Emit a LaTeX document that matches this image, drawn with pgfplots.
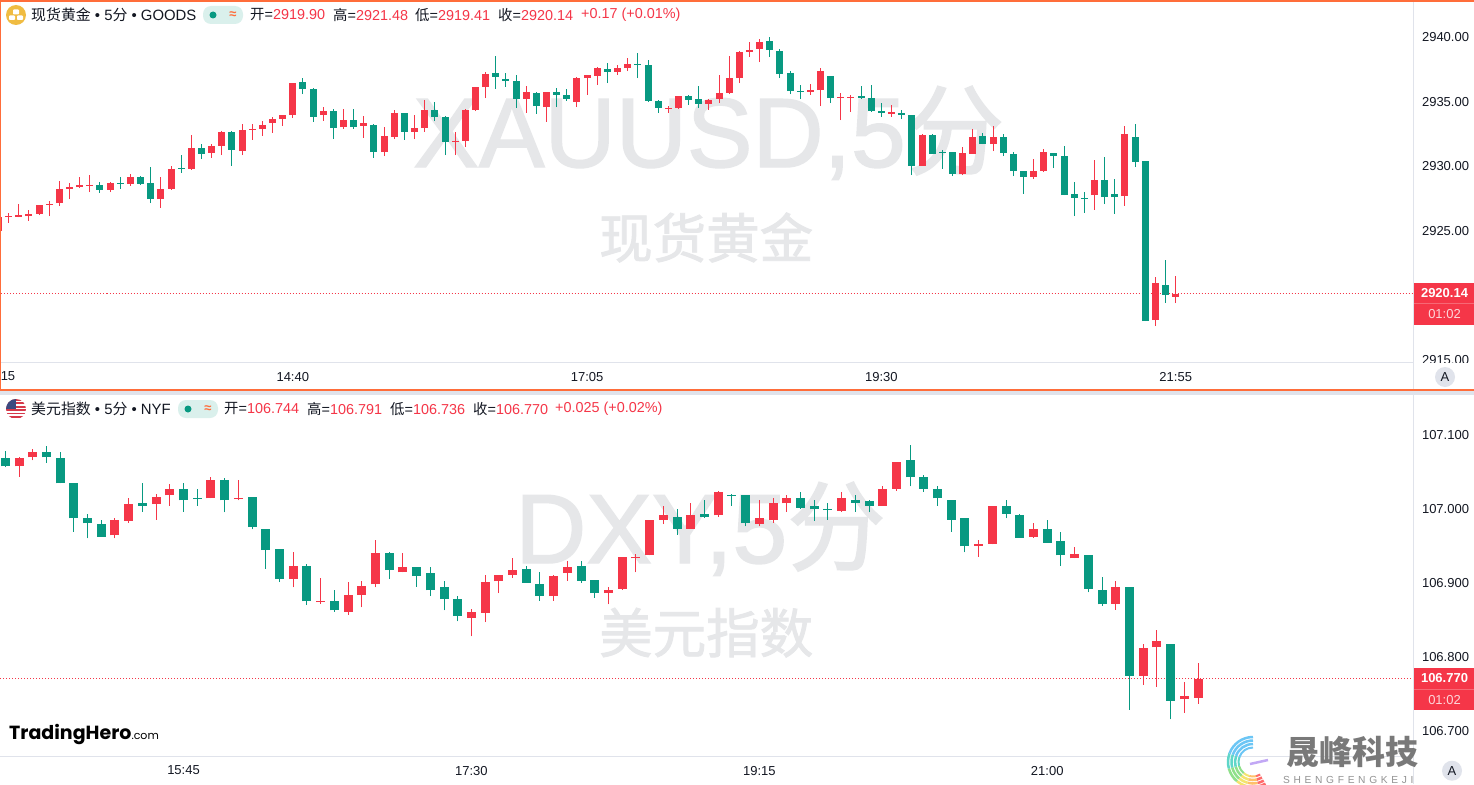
\documentclass[border=0pt]{standalone}
\usepackage{pgfplots}
\usepackage{pgfplotstable}
\usepackage{fontspec}
\pgfplotsset{compat=1.18}
\setmainfont{Liberation Sans}
\newfontfamily\cjk{Noto Sans CJK SC}
\newfontfamily\wmf{Liberation Sans}[FakeBold=1.5]
\newfontfamily\wmc{Noto Sans CJK SC}[FakeBold=1.5]
\newfontfamily\logof{Poppins}
\newfontfamily\spaced{Liberation Sans}[LetterSpace=36]
\newcommand{\fs}[1]{\fontsize{#1}{#1}\selectfont}
\definecolor{cup}{HTML}{F53648}
\definecolor{cdn}{HTML}{089981}
\definecolor{ln}{HTML}{E0E3EB}
\definecolor{org}{HTML}{FF6D3A}
\definecolor{wm}{HTML}{E6E7E9}
\definecolor{ink}{HTML}{131722}
\definecolor{goldc}{HTML}{F0BC42}
\definecolor{pill}{HTML}{DAF0EC}
\definecolor{flagr}{HTML}{D6384A}
\definecolor{flagb}{HTML}{3C4A80}
\definecolor{s1}{HTML}{FF6B6B}
\definecolor{s2}{HTML}{FFC06A}
\definecolor{s3}{HTML}{F4E46E}
\definecolor{s4}{HTML}{8FE08A}
\definecolor{s5}{HTML}{5FD6C8}
\definecolor{s6}{HTML}{6CC6F5}
\definecolor{s7}{HTML}{C2A8F5}

% x o h l c
\pgfplotstableread{
x o h l c
0 2925.03 2926.11 2925.03 2926.11
1 2926.08 2926.37 2925.65 2926.16
2 2926.11 2927.09 2926.06 2926.24
3 2926.16 2926.63 2925.80 2926.32
4 2926.32 2927.01 2926.24 2927.01
5 2927.04 2927.33 2926.16 2927.12
6 2927.17 2928.88 2926.97 2928.26
7 2928.26 2928.72 2927.48 2928.41
8 2928.41 2929.19 2928.33 2928.57
9 2928.49 2929.34 2928.02 2928.57
11 2928.18 2928.80 2928.02 2928.72
13 2928.65 2929.42 2928.49 2929.19
16 2927.48 2929.19 2926.79 2928.26
17 2928.26 2930.04 2928.18 2929.81
19 2929.81 2932.44 2929.73 2931.44
21 2931.05 2931.75 2930.66 2931.59
22 2931.59 2932.75 2930.89 2932.68
24 2931.20 2933.30 2930.89 2932.83
25 2932.83 2933.30 2932.06 2932.91
26 2932.91 2933.53 2932.37 2933.22
27 2933.38 2933.84 2932.60 2933.69
28 2933.69 2934.00 2933.14 2934.00
29 2934.00 2936.47 2933.76 2936.47
32 2934.00 2934.61 2933.53 2934.30
34 2933.06 2934.46 2932.91 2933.61
36 2933.14 2933.92 2932.21 2933.38
38 2931.12 2933.06 2930.81 2932.37
39 2932.29 2934.38 2932.13 2934.15
41 2932.68 2934.00 2932.13 2932.98
42 2932.98 2935.16 2932.68 2934.38
45 2931.90 2932.68 2930.89 2931.98
46 2931.98 2934.46 2931.51 2934.38
47 2934.38 2936.16 2934.30 2936.16
48 2936.16 2937.33 2935.31 2937.17
52 2935.24 2936.24 2934.15 2935.78
54 2934.61 2935.78 2933.45 2935.78
57 2935.00 2936.94 2934.61 2936.86
58 2936.86 2937.10 2935.55 2937.10
59 2937.02 2937.72 2936.32 2937.64
61 2937.33 2937.87 2937.10 2937.64
62 2937.64 2938.41 2937.40 2937.95
66 2934.46 2934.69 2934.15 2934.54
67 2934.54 2935.47 2934.46 2935.47
70 2934.85 2935.24 2934.38 2935.16
71 2935.24 2937.10 2934.92 2935.70
72 2935.70 2938.57 2935.62 2936.86
73 2936.86 2938.95 2936.47 2938.88
74 2938.88 2939.65 2938.49 2939.03
75 2939.11 2939.88 2938.10 2939.65
80 2935.78 2936.40 2935.55 2935.93
81 2935.93 2937.64 2934.69 2937.40
83 2935.31 2935.70 2933.60 2935.39
84 2935.34 2935.55 2934.23 2935.41
88 2934.07 2934.77 2933.84 2934.23
91 2930.04 2932.52 2930.04 2932.44
95 2929.42 2931.51 2929.34 2931.05
96 2930.97 2932.91 2930.97 2932.29
98 2931.74 2933.14 2931.20 2932.29
102 2929.19 2930.58 2929.03 2929.65
103 2929.65 2931.36 2929.57 2931.12
108 2927.79 2930.50 2926.63 2928.95
111 2927.71 2933.14 2926.94 2932.52
114 2918.10 2921.43 2917.63 2920.97
116 2919.90 2921.48 2919.41 2920.14
}\goldup
\pgfplotstableread{
x o h l c
10 2928.57 2928.80 2927.95 2928.18
12 2928.72 2929.19 2928.26 2928.65
14 2929.19 2929.27 2928.57 2928.65
15 2928.72 2929.96 2927.17 2927.48
18 2929.89 2930.89 2929.50 2929.81
20 2931.44 2931.75 2930.58 2930.97
23 2932.68 2932.75 2930.04 2931.28
30 2936.55 2936.86 2935.62 2936.01
31 2936.01 2936.09 2933.45 2933.84
33 2934.30 2934.46 2932.13 2932.98
35 2933.61 2934.46 2932.91 2933.06
37 2933.22 2933.30 2930.66 2931.12
40 2934.15 2934.15 2932.06 2932.68
43 2934.38 2935.00 2933.53 2933.84
44 2933.84 2933.92 2930.89 2931.90
49 2937.25 2938.57 2936.01 2936.94
50 2936.79 2937.25 2936.17 2936.63
51 2936.63 2937.10 2934.54 2935.24
53 2935.70 2935.78 2934.07 2934.69
55 2935.78 2936.09 2934.61 2935.55
56 2935.55 2936.01 2935.08 2935.24
60 2937.56 2938.02 2936.47 2937.33
63 2937.95 2938.80 2936.86 2937.89
64 2937.87 2938.26 2935.00 2935.08
65 2935.08 2935.16 2934.15 2934.54
68 2935.47 2935.55 2934.77 2935.16
69 2935.24 2936.24 2934.54 2934.85
76 2939.73 2940.04 2938.49 2939.03
77 2938.95 2939.11 2936.86 2937.17
78 2937.25 2937.40 2935.62 2935.85
79 2935.85 2936.32 2935.24 2935.78
82 2937.02 2937.02 2934.92 2935.31
85 2935.47 2936.24 2935.24 2935.31
86 2935.31 2936.32 2934.23 2934.30
87 2934.30 2934.92 2933.84 2934.15
89 2934.15 2934.38 2933.68 2934.00
90 2933.99 2933.99 2929.34 2930.04
92 2932.44 2932.52 2930.97 2930.97
93 2931.15 2931.28 2929.81 2931.07
94 2931.12 2931.12 2929.26 2929.42
97 2932.37 2932.60 2931.74 2931.74
99 2932.29 2932.52 2930.81 2931.05
100 2930.97 2931.12 2929.26 2929.65
101 2929.65 2929.65 2927.87 2929.19
104 2931.05 2931.05 2929.88 2930.81
105 2930.81 2931.59 2927.79 2927.79
106 2927.87 2928.80 2926.16 2927.56
107 2927.56 2928.02 2926.40 2927.48
109 2928.95 2930.74 2927.09 2927.63
110 2927.87 2929.03 2926.32 2927.63
112 2932.29 2933.30 2929.96 2930.35
113 2930.43 2930.43 2918.02 2918.02
115 2920.81 2922.75 2919.42 2920.03
}\golddn
\pgfplotstableread{
x o h l c
1 107.056 107.068 107.042 107.067
2 107.068 107.079 107.064 107.075
8 106.963 106.987 106.959 106.984
9 106.983 107.014 106.980 107.005
11 107.005 107.019 106.984 107.015
12 107.017 107.032 107.003 107.026
15 107.013 107.042 107.013 107.037
17 107.012 107.038 107.010 107.014
21 106.904 106.940 106.893 106.922
23 106.873 106.905 106.871 106.875
25 106.860 106.900 106.856 106.882
26 106.883 106.901 106.866 106.895
27 106.897 106.957 106.893 106.939
29 106.913 106.939 106.913 106.920
34 106.852 106.864 106.827 106.860
35 106.859 106.910 106.846 106.900
36 106.901 106.909 106.885 106.909
37 106.910 106.932 106.906 106.917
40 106.881 106.909 106.875 106.908
41 106.912 106.928 106.902 106.921
44 106.885 106.894 106.870 106.890
45 106.891 106.934 106.890 106.934
46 106.932 106.938 106.913 106.934
47 106.936 106.984 106.936 106.984
48 106.984 107.003 106.978 106.990
50 106.972 107.007 106.972 106.991
52 106.990 107.023 106.988 107.021
55 106.978 107.011 106.975 106.986
56 106.984 107.014 106.980 107.007
57 107.006 107.017 106.995 107.013
61 106.996 107.022 106.995 107.013
64 107.003 107.030 107.003 107.025
65 107.026 107.062 107.023 107.062
71 106.949 106.957 106.934 106.951
72 106.952 107.003 106.951 107.003
75 106.961 106.980 106.960 106.972
78 106.932 106.948 106.932 106.938
81 106.871 106.901 106.863 106.893
83 106.774 106.816 106.762 106.811
84 106.812 106.835 106.759 106.820
86 106.742 106.766 106.724 106.746
87 106.744 106.791 106.736 106.770
}\dxyup
\pgfplotstableread{
x o h l c
0 107.067 107.077 107.055 107.056
3 107.076 107.083 107.061 107.068
4 107.067 107.075 107.033 107.033
5 107.033 107.033 106.968 106.986
6 106.987 106.992 106.959 106.979
7 106.978 106.984 106.961 106.961
10 107.006 107.033 106.995 107.003
13 107.025 107.034 106.995 107.010
14 107.014 107.025 107.003 107.012
16 107.037 107.040 106.994 107.010
18 107.015 107.015 106.971 106.974
19 106.972 106.972 106.918 106.943
20 106.944 106.945 106.900 106.904
22 106.922 106.924 106.869 106.874
24 106.874 106.889 106.860 106.862
28 106.939 106.940 106.904 106.916
30 106.920 106.921 106.894 106.908
31 106.912 106.920 106.881 106.889
32 106.893 106.901 106.862 106.877
33 106.877 106.881 106.847 106.854
38 106.918 106.922 106.899 106.899
39 106.898 106.914 106.875 106.881
42 106.922 106.928 106.899 106.902
43 106.903 106.903 106.879 106.885
49 106.988 106.998 106.964 106.972
51 106.992 107.010 106.987 106.988
53 107.018 107.019 107.003 107.016
54 107.018 107.018 106.975 106.979
58 107.014 107.022 106.999 107.000
59 107.002 107.010 106.983 106.998
60 106.999 107.007 106.984 106.997
62 107.011 107.018 106.995 107.007
63 107.009 107.011 106.994 107.003
66 107.064 107.085 107.029 107.041
67 107.042 107.045 107.022 107.026
68 107.026 107.030 107.003 107.013
69 107.011 107.011 106.968 106.984
70 106.986 106.986 106.940 106.948
73 107.002 107.011 106.986 106.992
74 106.991 106.992 106.960 106.960
76 106.972 106.984 106.953 106.953
77 106.955 106.967 106.922 106.936
79 106.937 106.937 106.886 106.891
80 106.889 106.907 106.868 106.870
82 106.893 106.894 106.728 106.774
85 106.817 106.817 106.715 106.740
}\dxydn

\newcommand{\candles}[3]{%
  \addplot[draw=none,mark=none,forget plot,
    error bars/.cd,y dir=plus,y explicit,error mark=none,
    error bar style={draw=#2,line width=1pt,solid}]
    table[x=x,y=l,y error plus expr=\thisrow{h}-\thisrow{l}]{#1};
}
\newcommand{\bodiesup}[3]{%
  \addplot[draw=none,mark=none,forget plot,
    error bars/.cd,y dir=plus,y explicit,error mark=none,
    error bar style={draw=#2,line width=#3,solid}]
    table[x=x,y=o,y error plus expr=\thisrow{c}-\thisrow{o}]{#1};
}
\newcommand{\bodiesdn}[3]{%
  \addplot[draw=none,mark=none,forget plot,
    error bars/.cd,y dir=plus,y explicit,error mark=none,
    error bar style={draw=#2,line width=#3,solid}]
    table[x=x,y=c,y error plus expr=\thisrow{o}-\thisrow{c}]{#1};
}

\pgfplotsset{pane/.style={
  scale only axis,anchor=south west,
  axis x line=bottom,axis y line=right,
  axis line style={draw=ln,-,line width=1pt},
  major tick length=0pt,minor tick length=0pt,
  tick style={draw=none},
  xticklabel style={font=\fs{13},text=ink,yshift=-6.5pt},
  yticklabel style={font=\fs{13},text=ink,anchor=west,xshift=5.5pt},
}}

\begin{document}
\begin{tikzpicture}
\begin{scope}[x=1pt,y=-1pt]
  \fill[white] (0,0) rectangle (1474,784);
  \node[anchor=base west,inner sep=0pt,text=wm] at (413,167) {\fs{98.5}\wmf XAUUSD,5{\wmc 分}};
  \node[anchor=base west,inner sep=0pt,text=wm] at (599,258) {\fs{53.5}\wmc 现货黄金};
  \node[anchor=base west,inner sep=0pt,text=wm] at (515,563) {\fs{98.5}\wmf DXY,5{\wmc 分}};
  \node[anchor=base west,inner sep=0pt,text=wm] at (599,653) {\fs{53.5}\wmc 美元指数};
\end{scope}

\begin{axis}[pane,at={(0pt,-362pt)},width=1413pt,height=360pt,
  xmin=0.148,xmax=139.38,ymin=2914.845,ymax=2942.752,
  xtick={29,58,87,116},xticklabels={14:40,17:05,19:30,21:55},
  ytick={2915,2920,2925,2930,2935,2940},
  yticklabels={2915.00,2920.00,2925.00,2930.00,2935.00,2940.00}]
  \addplot[cup,line width=1pt,dash pattern=on 1pt off 2pt,forget plot] coordinates {(0,2920.14)(139.38,2920.14)};
  \candles{\goldup}{cup}{}
  \candles{\golddn}{cdn}{}
  \bodiesup{\goldup}{cup}{7pt}
  \bodiesdn{\golddn}{cdn}{7pt}
\end{axis}

\begin{axis}[pane,at={(0pt,-756pt)},width=1413pt,height=361pt,
  xmin=-0.387,xmax=102.68,ymin=106.66563,ymax=107.15216,
  xtick={13,34,55,76},xticklabels={15:45,17:30,19:15,21:00},
  ytick={106.7,106.8,106.9,107,107.1},
  yticklabels={106.700,106.800,106.900,107.000,107.100},
  yticklabel style={yshift=-1pt}]
  \addplot[cup,line width=1pt,dash pattern=on 1pt off 2pt,forget plot] coordinates {(-0.387,106.770)(102.68,106.770)};
  \candles{\dxyup}{cup}{}
  \candles{\dxydn}{cdn}{}
  \bodiesup{\dxyup}{cup}{9pt}
  \bodiesdn{\dxydn}{cdn}{9pt}
\end{axis}

\begin{scope}[x=1pt,y=-1pt]
  \fill[white] (1413.6,362.6) rectangle (1474,389.5);
  \draw[ln,line width=1pt] (1413,362) -- (1413,395);
  \draw[ln,line width=1pt] (1413,756) -- (1413,784);
  \fill[ln] (0,391) rectangle (1474,394.5);
  \fill[org] (0,0) rectangle (1474,2);
  \fill[org] (0,389) rectangle (1474,391);
  \fill[org] (0,0) rectangle (1.2,391);
  \node[anchor=center,inner sep=0pt,text=ink] at (8,376.5) {\fs{13}15};
  \fill[ln] (1445,377) circle (10);
  \node[inner sep=0pt,text=ink] at (1445,377) {\fs{13}A};
  \fill[ln] (1452,770.7) circle (10);
  \node[inner sep=0pt,text=ink] at (1452,770.7) {\fs{13}A};
  \fill[cup] (1414,282.5) rectangle (1474,324.5);
  \draw[white,opacity=.25,line width=.8pt] (1414,303.5) -- (1474,303.5);
  \node[inner sep=0pt,text=white] at (1444.5,293.5) {\fs{13}\bfseries 2920.14};
  \node[inner sep=0pt,text=white,opacity=.8] at (1444.5,314.5) {\fs{13}01:02};
  \fill[cup] (1414,668) rectangle (1474,710);
  \draw[white,opacity=.25,line width=.8pt] (1414,689.5) -- (1474,689.5);
  \node[inner sep=0pt,text=white] at (1444.5,678.5) {\fs{13}\bfseries 106.770};
  \node[inner sep=0pt,text=white,opacity=.8] at (1444.5,700) {\fs{13}01:02};
  \fill[goldc] (16,15) circle (10);
  \node[anchor=west,inner sep=0pt,text=ink] at (31,15) {\fs{14.9}{\cjk 现货黄金} • 5{\cjk 分} • GOODS};
  \fill[pill,rounded corners=8pt] (203,6) rectangle (243,24);
  \fill[cdn] (213,15) circle (3.5);
  \node[inner sep=0pt,text=org] at (233,15) {\fs{13}\bfseries ≈};
  \node[anchor=west,inner sep=0pt,text=ink] at (250,15) {\fs{14.4}{\cjk 开}=\textcolor{cup}{2919.90}};
  \node[anchor=west,inner sep=0pt,text=ink] at (333,15) {\fs{14.4}{\cjk 高}=\textcolor{cup}{2921.48}};
  \node[anchor=west,inner sep=0pt,text=ink] at (415,15) {\fs{14.4}{\cjk 低}=\textcolor{cup}{2919.41}};
  \node[anchor=west,inner sep=0pt,text=ink] at (498,15) {\fs{14.4}{\cjk 收}=\textcolor{cup}{2920.14}};
  \node[anchor=west,inner sep=0pt,text=cup] at (581,15) {\fs{14.4}+0.17 (+0.01\%)};
  \node[anchor=west,inner sep=0pt,text=ink] at (31,409) {\fs{14.9}{\cjk 美元指数} • 5{\cjk 分} • NYF};
  \fill[pill,rounded corners=8pt] (178,400) rectangle (218,418);
  \fill[cdn] (188,409) circle (3.5);
  \node[inner sep=0pt,text=org] at (208,409) {\fs{13}\bfseries ≈};
  \node[anchor=west,inner sep=0pt,text=ink] at (224,409) {\fs{14.4}{\cjk 开}=\textcolor{cup}{106.744}};
  \node[anchor=west,inner sep=0pt,text=ink] at (307,409) {\fs{14.4}{\cjk 高}=\textcolor{cup}{106.791}};
  \node[anchor=west,inner sep=0pt,text=ink] at (390,409) {\fs{14.4}{\cjk 低}=\textcolor{cup}{106.736}};
  \node[anchor=west,inner sep=0pt,text=ink] at (473,409) {\fs{14.4}{\cjk 收}=\textcolor{cup}{106.770}};
  \node[anchor=west,inner sep=0pt,text=cup] at (555,409) {\fs{14.4}+0.025 (+0.02\%)};
  \fill[white,rounded corners=.8pt] (13,9.5) rectangle (19,14.5);
  \fill[white,rounded corners=.8pt] (9,15.5) rectangle (15,20);
  \fill[white,rounded corners=.8pt] (17,15.5) rectangle (23,20);
  \begin{scope}
    \clip (16,409) circle (10);
    \fill[white] (6,399) rectangle (26,419);
    \foreach \s in {0,1,2,3,4,5}{\fill[flagr] (6,{399+\s*3.4}) rectangle (26,{400.7+\s*3.4});}
    \fill[flagb] (6,399) rectangle (16,409);
  \end{scope}
  \node[anchor=base west,inner sep=0pt,text=black] at (9,739) {\fs{19}\logof\bfseries TradingHero\fs{11}\mdseries.com};
  \foreach \r/\w in {25/2.5,21.5/2.5,18/2.5,14.5/2}{
    \draw[s1,line width=\w pt] (1253,762) ++(60:\r) arc[start angle=60,end angle=78,radius=\r];
    \draw[s2,line width=\w pt] (1253,762) ++(78:\r) arc[start angle=78,end angle=105,radius=\r];
    \draw[s3,line width=\w pt] (1253,762) ++(105:\r) arc[start angle=105,end angle=130,radius=\r];
    \draw[s4,line width=\w pt] (1253,762) ++(130:\r) arc[start angle=130,end angle=165,radius=\r];
    \draw[s5,line width=\w pt] (1253,762) ++(165:\r) arc[start angle=165,end angle=200,radius=\r];
    \draw[s6,line width=\w pt] (1253,762) ++(200:\r) arc[start angle=200,end angle=270,radius=\r];
  }
  \draw[s7,line width=2.5pt] (1268,760) -- (1250,764);
  \node[anchor=base west,inner sep=0pt,text=gray!95!black] at (1286,764) {\fs{33}\cjk\bfseries 晟峰科技};
  \node[anchor=base west,inner sep=0pt,text=gray!85] at (1283,783) {\fs{10.2}\spaced SHENGFENGKEJI};
\end{scope}
\pgfresetboundingbox
\path[use as bounding box] (0pt,0pt) rectangle (1474pt,-784pt);
\end{tikzpicture}
\end{document}
